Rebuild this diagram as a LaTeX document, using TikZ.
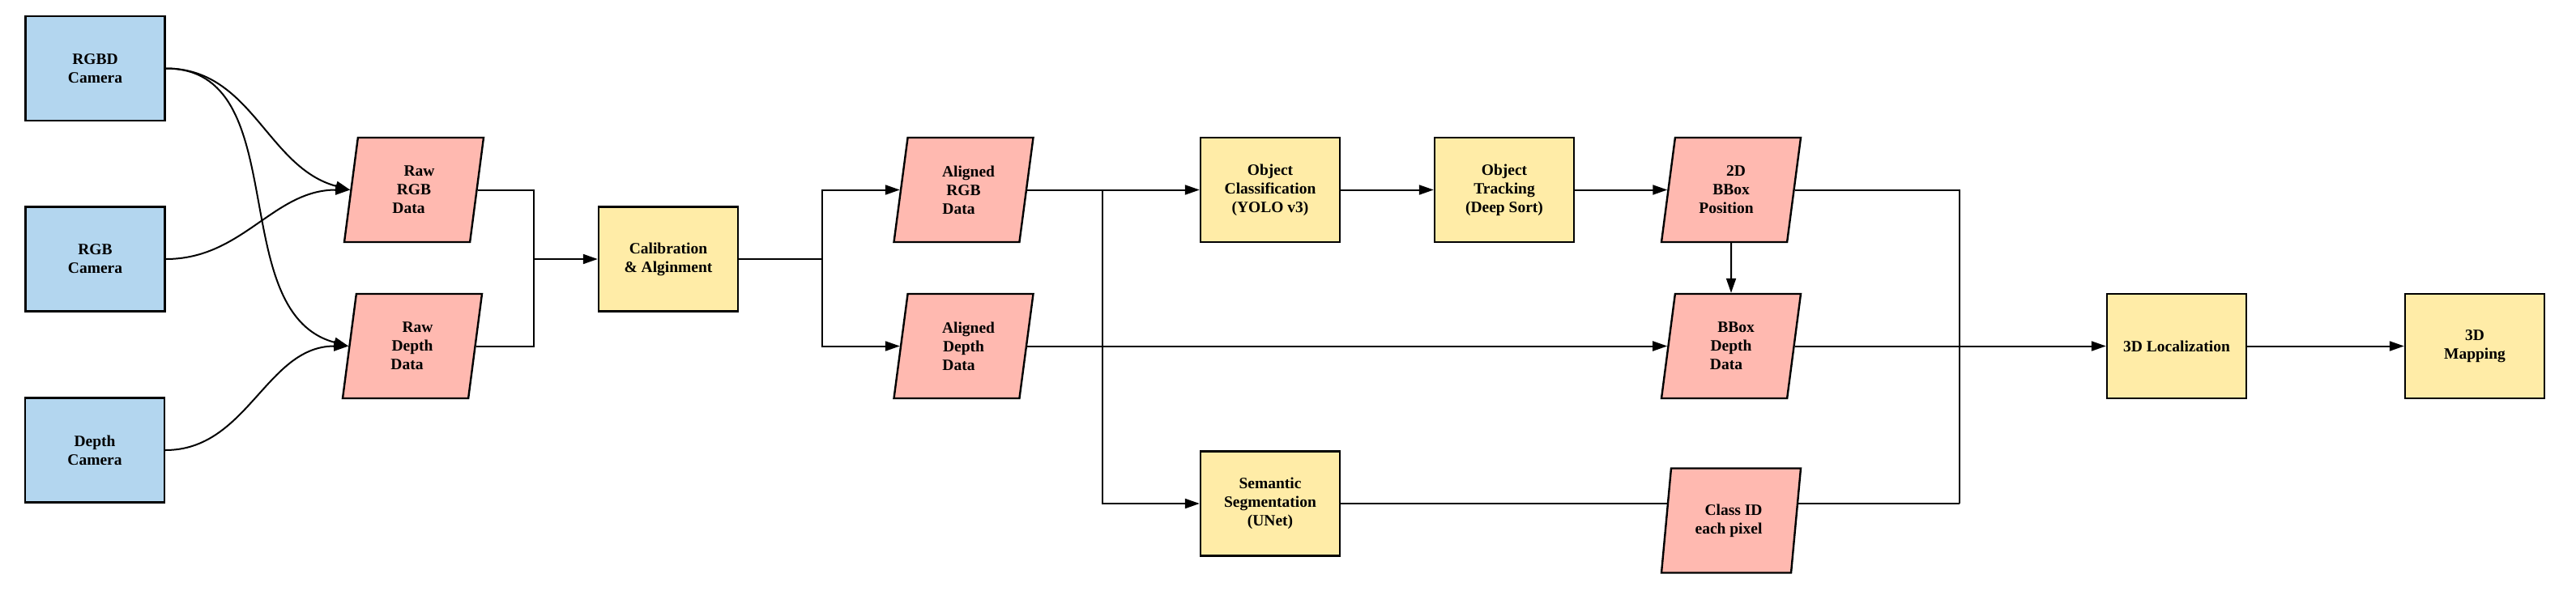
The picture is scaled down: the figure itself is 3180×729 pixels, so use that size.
\documentclass[tikz,border=0pt]{standalone}
\usepackage{fontspec}
\setmainfont{Liberation Serif}
\usetikzlibrary{shapes.geometric,arrows.meta,backgrounds}
\definecolor{camblue}{HTML}{B3D6EF}
\definecolor{procyel}{HTML}{FFECA7}
\definecolor{datapink}{HTML}{FFB9B0}
\newcommand{\rsh}[2]{\mbox{\hspace{#1}#2}}
\newcommand{\lsh}[2]{\mbox{#2\hspace{#1}}}
\begin{document}
\begin{tikzpicture}[x=1pt,y=-1pt,
  every node/.style={font=\fontsize{19.5}{23}\selectfont\bfseries, align=center},
  base/.style={draw=black, line width=2.4pt, minimum width=172pt, minimum height=129pt, inner sep=2pt},
  cambox/.style={base, rectangle, fill=camblue},
  procbox/.style={base, rectangle, fill=procyel},
  databox/.style={base, trapezium, trapezium left angle=75, trapezium right angle=105, trapezium stretches body, fill=datapink},
  conn/.style={draw=black, line width=2pt},
  arr/.style={conn, -{Triangle[length=18pt,width=12pt]}}
]
\useasboundingbox (0,0) rectangle (3180,729);
\node[cambox] (rgbd) at (117.5,84.5) {RGBD\\Camera};
\node[cambox] (rgbcam) at (117.5,320) {RGB\\Camera};
\node[cambox] (depcam) at (117,556) {Depth\\Camera};
\node[databox] (rawrgb) at (511,234.5) {\rsh{13pt}{Raw}\\RGB\\\lsh{13pt}{Data}};
\node[databox] (rawdep) at (509,427.5) {\rsh{13pt}{Raw}\\Depth\\\lsh{13pt}{Data}};
\node[procbox] (calib) at (825,320) {Calibration\\\& Alginment};
\node[databox] (argb) at (1189.5,234.5) {\rsh{12pt}{Aligned}\\RGB\\\lsh{12pt}{Data}};
\node[databox] (adep) at (1189.5,427.5) {\rsh{12pt}{Aligned}\\Depth\\\lsh{12pt}{Data}};
\node[procbox] (objcls) at (1568,234.5) {Object\\Classification\\(YOLO v3)};
\node[procbox] (objtrk) at (1857,234.5) {Object\\Tracking\\(Deep Sort)};
\node[procbox] (semseg) at (1568,622) {Semantic\\Segmentation\\(UNet)};
\node[databox] (bbox2d) at (2137,234.5) {\rsh{12pt}{2D}\\BBox\\\lsh{12pt}{Position}};
\node[databox] (bboxdep) at (2137,427.5) {\rsh{12pt}{BBox}\\Depth\\\lsh{12pt}{Data}};
\node[databox] (cid) at (2137,643) {\rsh{6pt}{Class ID}\\\lsh{6pt}{each pixel}};
\node[procbox] (loc) at (2687,427.5) {3D Localization};
\node[procbox] (map) at (3055,427.5) {3D\\Mapping};
\coordinate (m1) at (659,320);
\coordinate (s1) at (1015,320);
\coordinate (s2) at (1361,234.5);
\coordinate (busT) at (2419,234.5);
\coordinate (busB) at (2419,622);
\begin{pgfonlayer}{background}
\draw[arr] (rgbd.east) to[out=0,in=165] (rawrgb.left side);
\draw[arr] (rgbd.east) to[out=0,in=165] (rawdep.left side);
\draw[arr] (rgbcam.east) to[out=0,in=180] (rawrgb.left side);
\draw[arr] (depcam.east) to[out=0,in=180] (rawdep.left side);
\draw[conn] (rawrgb.right side) -| (m1);
\draw[conn] (rawdep.right side) -| (m1);
\draw[arr] (m1) -- (calib.west);
\draw[conn] (calib.east) -- (s1);
\draw[arr] (s1) |- (argb.left side);
\draw[arr] (s1) |- (adep.left side);
\draw[arr] (argb.right side) -- (objcls.west);
\draw[arr] (s2) |- (semseg.west);
\draw[arr] (adep.right side) -- (bboxdep.left side);
\draw[arr] (objcls) -- (objtrk);
\draw[arr] (objtrk.east) -- (bbox2d.left side);
\draw[arr] (bbox2d) -- (bboxdep);
\draw[conn] (bbox2d.right side) -- (busT) -- (busB);
\draw[conn] (semseg.east) -- (busB);
\draw[arr] (bboxdep.right side) -- (loc.west);
\draw[arr] (loc) -- (map);
\end{pgfonlayer}
\end{tikzpicture}
\end{document}
